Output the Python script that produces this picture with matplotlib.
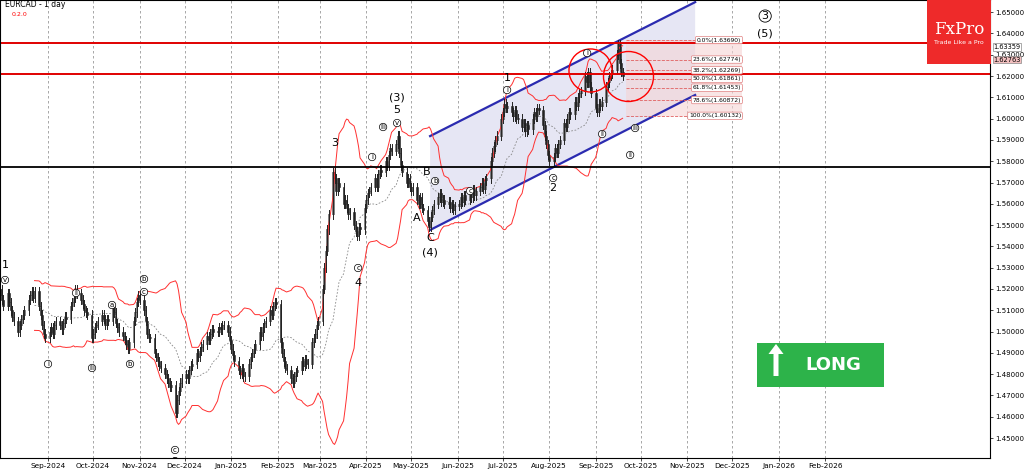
import numpy as np, pandas as pd
import matplotlib
matplotlib.use("Agg")
import matplotlib.pyplot as plt
from matplotlib.patches import Rectangle, Polygon, FancyArrow

# ---- data ----
start_week = "2024-07-29"
closes = [
 1.514,1.517,1.520,1.515,1.512,
 1.518,1.514,1.510,1.507,1.505,
 1.500,1.503,1.506,1.508,1.510,
 1.515,1.517,1.519,1.516,1.519,
 1.512,1.508,1.503,1.499,1.497,
 1.500,1.502,1.499,1.503,1.505,
 1.503,1.501,1.504,1.507,1.506,
 1.512,1.514,1.516,1.520,1.518,
 1.515,1.513,1.510,1.509,1.508,
 1.497,1.499,1.502,1.503,1.505,
 1.508,1.506,1.503,1.506,1.505,
 1.512,1.509,1.504,1.502,1.500,
 1.498,1.496,1.494,1.492,1.495,
 1.505,1.509,1.514,1.517,1.515,
 1.510,1.505,1.499,1.497,1.497,
 1.490,1.488,1.486,1.484,1.483,
 1.480,1.478,1.476,1.474,1.475,
 1.462,1.468,1.472,1.476,1.478,
 1.480,1.478,1.482,1.484,1.485,
 1.490,1.488,1.491,1.493,1.494,
 1.498,1.496,1.499,1.501,1.500,
 1.500,1.502,1.501,1.503,1.503,
 1.500,1.496,1.492,1.489,1.486,
 1.482,1.480,1.483,1.479,1.479,
 1.485,1.488,1.490,1.492,1.494,
 1.500,1.498,1.502,1.504,1.505,
 1.510,1.508,1.512,1.514,1.513,
 1.495,1.490,1.486,1.483,1.482,
 1.478,1.476,1.479,1.481,1.482,
 1.486,1.484,1.487,1.485,1.485,
 1.495,1.497,1.499,1.503,1.505,
 1.520,1.530,1.538,1.548,1.555,
 1.575,1.572,1.566,1.570,1.568,
 1.560,1.562,1.558,1.555,1.556,
 1.550,1.547,1.545,1.549,1.548,
 1.558,1.562,1.565,1.566,1.568,
 1.572,1.568,1.574,1.576,1.575,
 1.580,1.578,1.583,1.586,1.585,
 1.588,1.592,1.584,1.578,1.575,
 1.570,1.572,1.568,1.566,1.568,
 1.562,1.560,1.563,1.558,1.557,
 1.552,1.549,1.554,1.557,1.560,
 1.563,1.565,1.561,1.562,1.560,
 1.561,1.558,1.560,1.557,1.559,
 1.560,1.563,1.561,1.564,1.562,
 1.565,1.563,1.567,1.564,1.566,
 1.568,1.570,1.567,1.571,1.572,
 1.580,1.584,1.587,1.590,1.592,
 1.600,1.603,1.607,1.605,1.606,
 1.603,1.601,1.604,1.600,1.600,
 1.596,1.598,1.594,1.597,1.595,
 1.600,1.603,1.601,1.605,1.604,
 1.597,1.592,1.588,1.583,1.580,
 1.582,1.586,1.584,1.588,1.590,
 1.598,1.596,1.600,1.603,1.602,
 1.608,1.606,1.610,1.612,1.613,
 1.620,1.617,1.622,1.615,1.612,
 1.605,1.603,1.607,1.606,1.608,
 1.615,1.617,1.620,1.621,1.623,
 1.630,1.635,1.626,1.622,1.620,
]
fib_pct = ["0.0%","23.6%","38.2%","50.0%","61.8%","78.6%","100.0%"]
fib_val = [1.63690,1.62774,1.62269,1.61861,1.61453,1.60872,1.60132]
hlines_red = [1.6357, 1.6210]
hline_black = 1.5775

dates = pd.bdate_range(start_week, periods=len(closes))
t0 = pd.Timestamp("2024-07-31")
x = np.array([(d - t0).days for d in dates], float)
c = np.array(closes)
o = np.r_[c[0], c[:-1]]
hi = np.maximum(o, c) + 0.002
lo = np.minimum(o, c) - 0.002
s = pd.Series(c)
ma = s.rolling(20).mean().values
sd = s.rolling(20).std().values
up, dn = ma + 2*sd, ma - 2*sd

fig = plt.figure(figsize=(10.24, 4.74), dpi=100)
ax = fig.add_axes([0, 0.034, 0.967, 0.966])
ax.set_xlim(0, 660)
ax.set_ylim(1.4407, 1.6557)

months = pd.date_range("2024-09-01", "2026-02-01", freq="MS")
for m in months:
    ax.axvline((m - t0).days, color="#999999", ls=(0, (3, 3)), lw=0.6, zorder=0)
ax.set_xticks([(m - t0).days for m in months])
ax.set_xticklabels([m.strftime("%b-%Y") for m in months], fontsize=5.3)
yt = np.arange(1.45, 1.6551, 0.01)
ax.set_yticks(yt)
ax.set_yticklabels([f"{v:.5f}" for v in yt], fontsize=5)
ax.yaxis.tick_right()
ax.tick_params(length=2.5, width=0.5, pad=1)

def d(px): return px/1.5
ax.add_patch(Polygon([[d(430),1.5918],[d(695),1.6547],[d(695),1.6111],[d(430),1.5477]],
             closed=True, fc="#e6e6f4", ec="none", zorder=0))
ax.plot([d(430),d(695)],[1.5918,1.6547],color="#2b2bb0",lw=1.6)
ax.plot([d(430),d(695)],[1.5477,1.6111],color="#2b2bb0",lw=1.6)

ax.add_patch(Rectangle((d(626),fib_val[-1]), d(742)-d(626), fib_val[0]-fib_val[-1],
             fc="#f5d5d5", ec="none", alpha=0.6, zorder=0))
for p, v in zip(fib_pct, fib_val):
    ax.plot([d(626), d(742)], [v, v], color="#e06060", ls="--", lw=0.6)
    ax.text(d(741), v, f"{p}({v:.5f})", fontsize=4.3, ha="right", va="center",
            bbox=dict(boxstyle="round,pad=0.2", fc="white", ec="#e08080", lw=0.5))

ax.plot(x, up, color="#ff3030", lw=0.7)
ax.plot(x, dn, color="#ff3030", lw=0.7)
ax.plot(x, ma, color="#888888", lw=0.6, ls=(0, (2, 2)))

for xi, oi, ci, h, l in zip(x, o, c, hi, lo):
    ax.plot([xi, xi], [l, h], color="#222222", lw=0.7)
    ax.add_patch(Rectangle((xi-0.6, min(oi, ci)), 1.2, max(abs(ci-oi), 0.0003),
                 fc="white" if ci >= oi else "#222222", ec="#222222", lw=0.4))

for v in hlines_red:
    ax.axhline(v, color="#e00000", lw=1.4)
ax.axhline(hline_black, color="black", lw=1.3)

ax.plot([d(590)], [1.6230], marker="o", ms=31, mfc="none", mec="red", mew=1.0)
ax.plot([d(628)], [1.6200], marker="o", ms=36, mfc="none", mec="red", mew=1.0)

big = [("1",5,265),("2",175,462),("3",335,143),("4",358,283),("(3)",397,97),("5",397,110),
       ("A",417,218),("B",427,172),("C",430,238),("(4)",430,252),("1",507,78),("2",553,188),
       ("(5)",765,33)]
for t, px, py in big:
    ax.text(d(px), 1.62-(py-76)/2130, t, fontsize=8, ha="center", va="center", clip_on=True)
circ = [("v",5,280),("i",48,364),("ii",76,293),("iii",92,368),("a",112,305),("b",130,364),
        ("b",144,279),("c",144,292),("c",175,450),("c",358,268),("i",372,157),("iii",383,127),
        ("v",397,123),("b",435,181),("c",470,191),("i",507,90),("c",553,178),("i",587,53),
        ("ii",602,134),("iii",635,128),("ii",630,155)]
for t, px, py in circ:
    ax.text(d(px), 1.62-(py-76)/2130, t, fontsize=5, ha="center", va="center",
            bbox=dict(boxstyle="circle,pad=0.1", fc="white", ec="black", lw=0.5))
ax.text(d(765), 1.62-(16-76)/2130, "3", fontsize=8, ha="center", va="center",
        bbox=dict(boxstyle="circle,pad=0.1", fc="white", ec="black", lw=0.6))

ax.text(3, 1.6535, "EURCAD - 1 day", fontsize=5.5, va="center")
ax.text(8, 1.6490, "0.2.0", fontsize=4.5, color="red", va="center")

for v, fc in [(1.63359, "white"), (1.62763, "#f3c0c0")]:
    ax.text(662, v, f"{v:.5f}", fontsize=4.8, va="center", clip_on=False,
            bbox=dict(boxstyle="square,pad=0.1", fc=fc, ec="#888888", lw=0.5))

fig.patches.append(Rectangle((757/1024, 1-387/474), 127/1024, 44/474, transform=fig.transFigure,
                             fc="#2db34a", ec="none"))
fig.text(805/1024, 1-365/474, "LONG", color="white", fontsize=13, fontweight="bold", va="center")
fig.patches.append(FancyArrow(776/1024, 1-376/474, 0, 22/474, width=5/1024, head_width=15/1024,
                              head_length=10/474, transform=fig.transFigure, fc="white", ec="none"))

fig.patches.append(Rectangle((927/1024, 1-64/474), 64/1024, 64/474, transform=fig.transFigure,
                             fc="#ee2a2a", ec="none", zorder=5))
fig.text(959/1024, 1-29/474, "FxPro", color="white", fontsize=12, family="DejaVu Serif",
         ha="center", va="center", zorder=6)
fig.text(959/1024, 1-42/474, "Trade Like a Pro", color="white", fontsize=4.5,
         ha="center", va="center", zorder=6)

fig.savefig("out.png", dpi=100)
